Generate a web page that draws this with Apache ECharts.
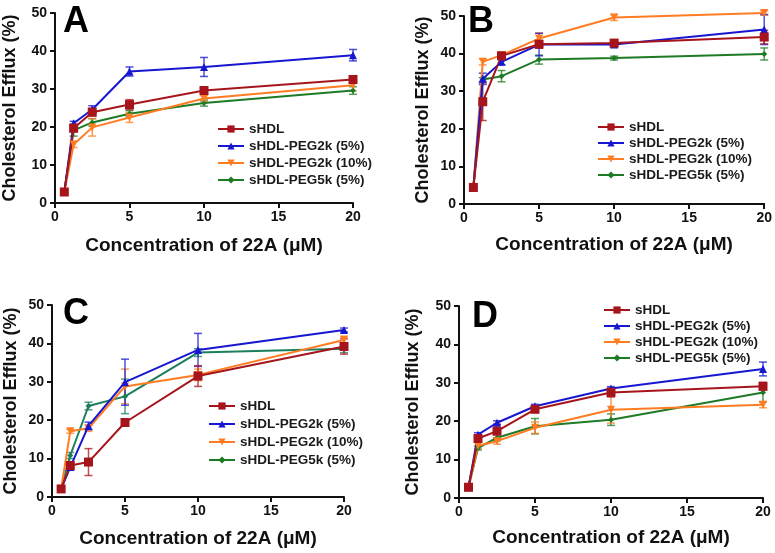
<!DOCTYPE html>
<html><head><meta charset="utf-8">
<script src="https://cdn.jsdelivr.net/npm/echarts@6/dist/echarts.min.js"></script>
<style>html,body{margin:0;padding:0;background:#fff}#c{width:775px;height:553px}</style>
</head><body><div id="c"></div>
<script>
// ---- data ----
const xVals = [0.625, 1.25, 2.5, 5, 10, 20];
const seriesNames = ['sHDL', 'sHDL-PEG2k (5%)', 'sHDL-PEG2k (10%)', 'sHDL-PEG5k (5%)'];
const xTicks = [0, 5, 10, 15, 20];
const yTicks = [0, 10, 20, 30, 40, 50];
const panelLetters = ['A', 'B', 'C', 'D'];
const xTitle = 'Concentration of 22A (\u03bcM)';
const yTitle = 'Cholesterol Efflux (%)';

const A_sHDL     = [2.9, 19.7, 23.9, 25.9, 29.6, 32.5];
const A_sHDL_err = [0.3, 1.0, 1.0, 1.3, 1.0, 1.0];
const A_p2k5     = [2.9, 21.0, 24.6, 34.6, 35.8, 38.9];
const A_p2k5_err = [0, 0.5, 1.0, 1.2, 2.5, 1.5];
const A_p2k10    = [2.9, 15.4, 19.9, 22.5, 27.5, 31.0];
const A_p2k10_err= [0, 0.8, 2.3, 1.3, 0.8, 1.5];
const A_p5k      = [2.9, 19.1, 21.2, 23.5, 26.3, 29.6];
const A_p5k_err  = [0, 1.5, 1.0, 0.8, 0.8, 1.0];

const B_sHDL     = [4.4, 27.2, 39.4, 42.5, 42.8, 44.4];
const B_sHDL_err = [0.3, 5.0, 0.8, 1.0, 0.8, 1.8];
const B_p2k5     = [4.4, 33.3, 37.8, 42.4, 42.4, 46.4];
const B_p2k5_err = [0, 1.5, 0.8, 3.0, 0.6, 4.0];
const B_p2k10    = [4.4, 37.8, 39.6, 44.0, 49.6, 50.8];
const B_p2k10_err= [0, 0.8, 0.8, 1.5, 0.8, 0.6];
const B_p5k      = [4.4, 33.1, 34.0, 38.4, 38.8, 39.9];
const B_p5k_err  = [0, 0.5, 1.5, 1.2, 0.5, 1.6];

const C_sHDL     = [2.1, 8.2, 9.1, 19.4, 31.5, 39.2];
const C_sHDL_err = [0.3, 1.0, 3.5, 0.8, 2.7, 2.0];
const C_p2k5     = [2.1, 7.8, 18.5, 29.9, 38.3, 43.5];
const C_p2k5_err = [0, 0.8, 1.0, 6.0, 4.3, 0.5];
const C_p2k10    = [2.1, 17.1, 17.9, 28.8, 31.8, 40.9];
const C_p2k10_err= [0, 0.5, 0.8, 4.5, 1.5, 1.0];
const C_p5k      = [2.1, 10.8, 23.7, 26.2, 37.6, 38.6];
const C_p5k_err  = [0, 0.8, 1.0, 4.5, 1.0, 1.0];

const D_sHDL     = [2.8, 15.5, 17.4, 23.1, 27.5, 29.1];
const D_sHDL_err = [0.3, 0.8, 1.8, 0.8, 1.2, 1.0];
const D_p2k5     = [2.8, 16.5, 19.6, 23.9, 28.5, 33.6];
const D_p2k5_err = [0, 0.5, 0.5, 0.5, 0.5, 1.8];
const D_p2k10    = [2.8, 13.6, 14.8, 18.3, 23.0, 24.3];
const D_p2k10_err= [0, 0.8, 0.8, 1.5, 3.5, 0.8];
const D_p5k      = [2.8, 13.0, 15.7, 18.7, 20.4, 27.5];
const D_p5k_err  = [0, 0.5, 0.8, 2.0, 1.5, 2.5];

const panelValues = [
  [A_sHDL, A_p2k5, A_p2k10, A_p5k],
  [B_sHDL, B_p2k5, B_p2k10, B_p5k],
  [C_sHDL, C_p2k5, C_p2k10, C_p5k],
  [D_sHDL, D_p2k5, D_p2k10, D_p5k]
];
const panelErrors = [
  [A_sHDL_err, A_p2k5_err, A_p2k10_err, A_p5k_err],
  [B_sHDL_err, B_p2k5_err, B_p2k10_err, B_p5k_err],
  [C_sHDL_err, C_p2k5_err, C_p2k10_err, C_p5k_err],
  [D_sHDL_err, D_p2k5_err, D_p2k10_err, D_p5k_err]
];

// ---- layout / style ----
const FONT = 'Liberation Sans, Arial, sans-serif';
const layout = [
  { grid: {left: 54, top: 13, width: 299, height: 190}, yGap: 36, xGap: 33, letter: [63, 4],
    legend: {left: 212, top: 117, gap: 3} },
  { grid: {left: 464, top: 16, width: 301, height: 188}, yGap: 32, xGap: 31, letter: [468, 4],
    legend: {left: 592, top: 115, gap: 2} },
  { grid: {left: 52, top: 305, width: 292, height: 192}, yGap: 32, xGap: 32, letter: [63, 296],
    legend: {left: 203, top: 394, gap: 4} },
  { grid: {left: 459, top: 306, width: 304, height: 192}, yGap: 37, xGap: 30, letter: [472, 299],
    legend: {left: 598, top: 298, gap: 2} }
];
const colors = ['#A6151C', '#1717D2', '#FF7C22', '#1E7B25'];
const greenC = '#1b7f5c';
const symbols = ['rect', 'triangle', 'path://M0,0L10,0L5,9Z', 'diamond'];
const symbolSizes = [9, 8, 8, 6];

const grids = [], xAxes = [], yAxes = [], series = [], legends = [], graphics = [];

layout.forEach((L, p) => {
  grids.push(Object.assign({containLabel: false}, L.grid));
  xAxes.push({
    type: 'value', gridIndex: p, min: 0, max: 20, interval: 5,
    name: xTitle, nameLocation: 'middle', nameGap: L.xGap,
    nameTextStyle: {fontSize: 19, fontWeight: 'bold', fontFamily: FONT, color: '#111'},
    axisLine: {onZero: false, lineStyle: {color: '#111', width: 2}},
    axisTick: {show: true, length: 5, lineStyle: {color: '#111', width: 2}},
    axisLabel: {fontSize: 14, fontWeight: 'bold', fontFamily: FONT, color: '#111', margin: 7,
      formatter: v => xTicks.includes(v) ? String(v) : ''},
    splitLine: {show: false}
  });
  yAxes.push({
    type: 'value', gridIndex: p, min: 0, max: 50, interval: 10,
    name: yTitle, nameLocation: 'middle', nameGap: L.yGap, nameRotate: 90,
    nameTextStyle: {fontSize: 18, fontWeight: 'bold', fontFamily: FONT, color: '#111'},
    axisLine: {show: true, onZero: false, lineStyle: {color: '#111', width: 2}},
    axisTick: {show: true, length: 5, lineStyle: {color: '#111', width: 2}},
    axisLabel: {fontSize: 14, fontWeight: 'bold', fontFamily: FONT, color: '#111', margin: 8,
      formatter: v => yTicks.includes(v) ? String(v) : ''},
    splitLine: {show: false}
  });
  legends.push({
    data: seriesNames, orient: 'vertical', left: L.legend.left, top: L.legend.top,
    itemWidth: 26, itemHeight: 9, itemGap: L.legend.gap, selectedMode: false,
    textStyle: {fontSize: 13.5, fontWeight: 'bold', fontFamily: FONT, color: '#1a1a1a', lineHeight: 13}
  });
  graphics.push({
    type: 'text', left: L.letter[0], top: L.letter[1],
    style: {text: panelLetters[p], font: 'bold 36px ' + FONT, fill: '#000'}
  });
  const order = [3, 2, 1, 0];
  order.forEach(s => {
    const col = (p === 2 && s === 3) ? greenC : colors[s];
    const vals = panelValues[p][s];
    const errs = panelErrors[p][s];
    series.push({
      type: 'custom', xAxisIndex: p, yAxisIndex: p, silent: true, z: 2, clip: false,
      data: xVals.map((x, k) => [x, vals[k], errs[k]]),
      renderItem: (params, api) => {
        const x = api.value(0), y = api.value(1), e = api.value(2);
        if (!e) return null;
        const t = api.coord([x, y + e]), b = api.coord([x, y - e]);
        const st = {stroke: col, lineWidth: 1.5, opacity: 0.75};
        return {type: 'group', children: [
          {type: 'line', shape: {x1: t[0], y1: t[1], x2: b[0], y2: b[1]}, style: st},
          {type: 'line', shape: {x1: t[0] - 4, y1: t[1], x2: t[0] + 4, y2: t[1]}, style: st},
          {type: 'line', shape: {x1: b[0] - 4, y1: b[1], x2: b[0] + 4, y2: b[1]}, style: st}
        ]};
      }
    });
    series.push({
      type: 'line', name: seriesNames[s], xAxisIndex: p, yAxisIndex: p, z: 3, clip: false,
      data: xVals.map((x, k) => [x, vals[k]]),
      symbol: symbols[s], symbolSize: symbolSizes[s], showSymbol: true,
      itemStyle: {color: col}, lineStyle: {color: col, width: 2},
      animation: false
    });
  });
});

const chart = echarts.init(document.getElementById('c'));
chart.setOption({
  backgroundColor: '#fff', animation: false,
  grid: grids, xAxis: xAxes, yAxis: yAxes, legend: legends, series: series, graphic: graphics
});
</script></body></html>
